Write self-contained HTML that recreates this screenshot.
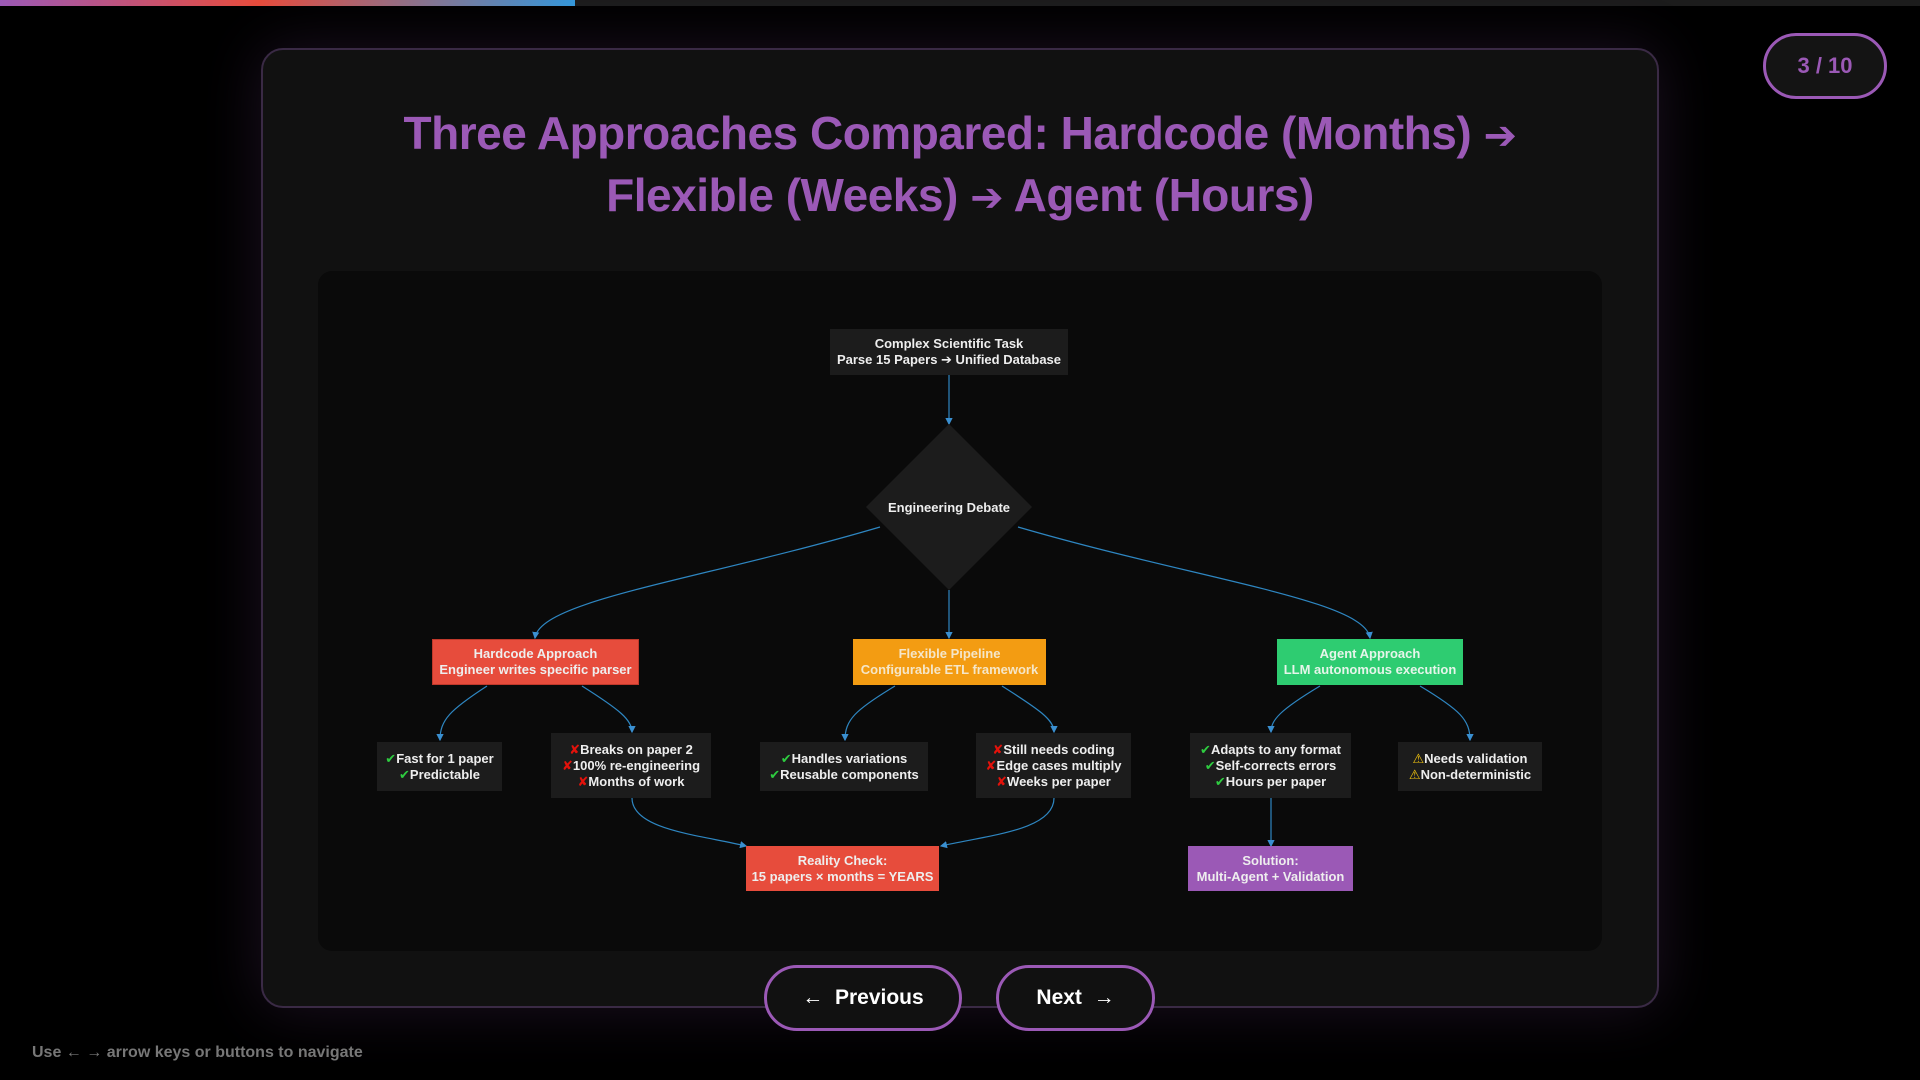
<!DOCTYPE html>
<html><head><meta charset="utf-8"><style>
*{margin:0;padding:0;box-sizing:border-box}
body{width:1920px;height:1080px;background:#000;position:relative;overflow:hidden;font-family:"Liberation Sans","DejaVu Sans",sans-serif}
.track{position:absolute;left:0;top:0;width:1920px;height:6px;background:#1c1c1c}
.prog{position:absolute;left:0;top:0;width:575px;height:6px;background:linear-gradient(90deg,#9b59b6,#e74c3c 45%,#3498db)}
.card{position:absolute;left:261px;top:48px;width:1398px;height:960px;background:#111;border:2px solid #3a2a45;border-radius:22px;box-shadow:0 0 60px rgba(155,89,182,0.18)}
.title{position:absolute;left:261px;top:104px;width:1398px;text-align:center;color:#9b59b6;font-weight:bold;font-size:46px;line-height:59px;letter-spacing:-0.5px}
.ar{font-family:"DejaVu Sans",sans-serif;font-size:40px}
.pill{position:absolute;left:1763px;top:33px;width:124px;height:66px;border:3px solid #9b59b6;border-radius:33px;background:#141414;color:#9b59b6;font-weight:bold;font-size:22px;text-align:center;line-height:60px}
.diag{position:absolute;left:318px;top:271px;width:1284px;height:680px;background:#0a0a0a;border-radius:14px}
.n{position:absolute;display:flex;align-items:center;justify-content:center;text-align:center;font-weight:bold;font-size:13px;line-height:16px;color:#eee;background:#1c1c1c}
.btn{position:absolute;top:965px;height:66px;border:3px solid #9b59b6;border-radius:33px;background:#111;color:#fff;font-weight:bold;font-size:21px;display:flex;align-items:center;justify-content:center}
.foot{position:absolute;left:32px;top:1044px;color:#777;font-size:16px;font-weight:bold}
.ok{color:#2ecc40}.no{color:#e3120b}.wr{color:#f1c40f}
</style></head><body>
<div class="track"></div><div class="prog"></div>
<div class="card"></div>
<div class="pill">3 / 10</div>
<div class="title">Three Approaches Compared: Hardcode (Months) <span class="ar">➔</span><br>Flexible (Weeks) <span class="ar">➔</span> Agent (Hours)</div>
<div class="diag"></div>
<svg style="position:absolute;left:0;top:0" width="1920" height="1080">
<defs><marker id="a" markerWidth="6" markerHeight="6" refX="5" refY="3" orient="auto"><path d="M0,0L6,3L0,6z" fill="#3a8fd0"/></marker></defs>
<g fill="none" stroke="#2e86c1" stroke-width="1.2" marker-end="url(#a)">
<path d="M949,375L949,424"/>
<path d="M949,590L949,638"/>
<path d="M880,527C700,580 540,600 535,638"/>
<path d="M1018,527C1200,580 1365,600 1370,638"/>
<path d="M487,686C450,710 440,720 440,740"/>
<path d="M582,686C620,710 632,720 632,732"/>
<path d="M895,686C855,710 845,720 845,740"/>
<path d="M1002,686C1040,710 1054,720 1054,732"/>
<path d="M1320,686C1280,710 1271,720 1271,732"/>
<path d="M1420,686C1460,710 1470,720 1470,740"/>
<path d="M632,798C632,830 700,835 746,846"/>
<path d="M1054,798C1054,830 990,835 941,846"/>
<path d="M1271,798L1271,846"/>
</g>
<polygon points="949,424 1032,507 949,590 866,507" fill="#1c1c1c"/>
<text x="949" y="512" fill="#eee" font-size="13" font-weight="bold" text-anchor="middle" font-family="Liberation Sans,sans-serif">Engineering Debate</text>
</svg>
<div class="n" style="left:830px;top:329px;width:238px;height:46px">Complex Scientific Task<br>Parse 15 Papers ➔ Unified Database</div>
<div class="n" style="left:432px;top:639px;width:207px;height:46px;background:#e74c3c;border:1px solid #c0392b">Hardcode Approach<br>Engineer writes specific parser</div>
<div class="n" style="left:853px;top:639px;width:193px;height:46px;background:#f39c12;color:#f5e6c8">Flexible Pipeline<br>Configurable ETL framework</div>
<div class="n" style="left:1277px;top:639px;width:186px;height:46px;background:#2ecc71;color:#e6f5ea">Agent Approach<br>LLM autonomous execution</div>
<div class="n" style="left:377px;top:742px;width:125px;height:49px"><div><span class="ok">✔</span>Fast for 1 paper<br><span class="ok">✔</span>Predictable</div></div>
<div class="n" style="left:551px;top:733px;width:160px;height:65px"><div><span class="no">✘</span>Breaks on paper 2<br><span class="no">✘</span>100% re-engineering<br><span class="no">✘</span>Months of work</div></div>
<div class="n" style="left:760px;top:742px;width:168px;height:49px"><div><span class="ok">✔</span>Handles variations<br><span class="ok">✔</span>Reusable components</div></div>
<div class="n" style="left:976px;top:733px;width:155px;height:65px"><div><span class="no">✘</span>Still needs coding<br><span class="no">✘</span>Edge cases multiply<br><span class="no">✘</span>Weeks per paper</div></div>
<div class="n" style="left:1190px;top:733px;width:161px;height:65px"><div><span class="ok">✔</span>Adapts to any format<br><span class="ok">✔</span>Self-corrects errors<br><span class="ok">✔</span>Hours per paper</div></div>
<div class="n" style="left:1398px;top:742px;width:144px;height:49px"><div><span class="wr">⚠</span>Needs validation<br><span class="wr">⚠</span>Non-deterministic</div></div>
<div class="n" style="left:746px;top:846px;width:193px;height:45px;background:#e74c3c">Reality Check:<br>15 papers × months = YEARS</div>
<div class="n" style="left:1188px;top:846px;width:165px;height:45px;background:#9b59b6">Solution:<br>Multi-Agent + Validation</div>
<div class="btn" style="left:764px;width:198px">←&nbsp; Previous</div>
<div class="btn" style="left:996px;width:159px">Next &nbsp;→</div>
<div class="foot">Use ← → arrow keys or buttons to navigate</div>
</body></html>
